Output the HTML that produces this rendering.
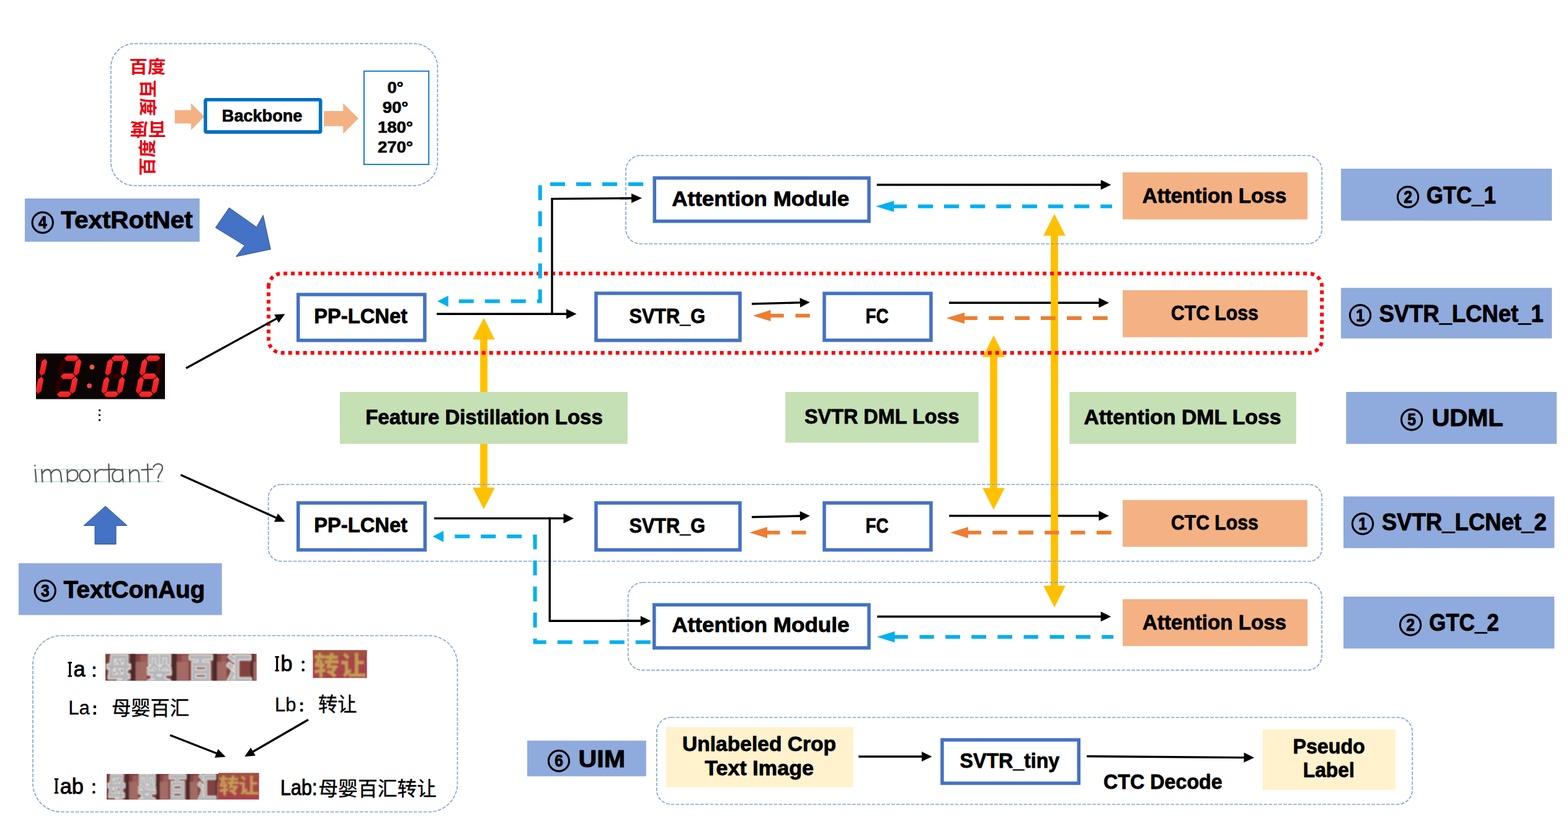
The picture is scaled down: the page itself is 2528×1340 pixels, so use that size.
<!DOCTYPE html>
<html lang="en"><head><meta charset="utf-8"><title>PP-OCRv3 recognition distillation diagram</title>
<style>
html,body{margin:0;padding:0;background:#fff;}
body{width:2528px;height:1340px;overflow:hidden;font-family:"Liberation Sans",sans-serif;}
svg{display:block;}
text{font-family:"Liberation Sans",sans-serif;}
text.cjk{font-family:"Liberation Sans","Noto Sans CJK SC",sans-serif;}
</style></head><body>
<svg width="2528" height="1340" viewBox="0 0 2528 1340">
<defs>
<filter id="blur06" x="-5%" y="-5%" width="110%" height="110%"><feGaussianBlur stdDeviation="0.6"/></filter>
<filter id="blur08" x="-5%" y="-5%" width="110%" height="110%"><feGaussianBlur stdDeviation="0.8"/></filter>
</defs>
<rect width="2528" height="1340" fill="#fff"/>
<rect x="178.80" y="70.40" width="526.60" height="228.90" rx="38" fill="none" stroke="#86A3DA" stroke-width="1.7" stroke-dasharray="5.6 2.3"/>
<g transform="translate(209,95.2)" fill="#E60012">
<text class="cjk" x="-0.6" y="22.7" font-size="28.5" font-weight="bold" textLength="58.7" lengthAdjust="spacingAndGlyphs">百度</text>
</g>
<g transform="translate(250.5,129) rotate(90)" fill="#E60012">
<text class="cjk" x="-0.6" y="22.7" font-size="28.5" font-weight="bold" textLength="58.7" lengthAdjust="spacingAndGlyphs">百度</text>
</g>
<g transform="translate(267.5,220.3) rotate(180)" fill="#E60012">
<text class="cjk" x="-0.6" y="22.7" font-size="28.5" font-weight="bold" textLength="58.7" lengthAdjust="spacingAndGlyphs">百度</text>
</g>
<g transform="translate(225.5,282.8) rotate(-90)" fill="#E60012">
<text class="cjk" x="-0.6" y="22.7" font-size="28.5" font-weight="bold" textLength="58.7" lengthAdjust="spacingAndGlyphs">百度</text>
</g>
<polygon points="281.80,177.40 308.00,177.40 308.00,166.60 329.50,188.00 308.00,209.80 308.00,199.10 281.80,199.10" fill="#F4B183" />
<polygon points="522.20,179.00 553.20,179.00 553.20,166.60 578.00,191.00 553.20,215.70 553.20,203.60 522.20,203.60" fill="#F4B183" />
<rect x="331.20" y="160.80" width="185.50" height="52.10" fill="#fff" stroke="#0070C0" stroke-width="5.6" rx="1.5"/>
<text x="357.80" y="196.20" font-family="'Liberation Sans', sans-serif" font-size="27.5" font-weight="bold" fill="#000" text-anchor="start" stroke="#000" stroke-width="0.66" stroke-linejoin="round" textLength="129.60" lengthAdjust="spacingAndGlyphs" >Backbone</text>
<rect x="586.90" y="114.70" width="104.40" height="150.50" fill="#fff" stroke="#0070C0" stroke-width="1.8" rx="0"/>
<text x="624.40" y="149.70" font-family="'Liberation Sans', sans-serif" font-size="26.3" font-weight="bold" fill="#000" text-anchor="start" stroke="#000" stroke-width="0.63" stroke-linejoin="round" textLength="26.00" lengthAdjust="spacingAndGlyphs" >0°</text>
<text x="616.65" y="181.67" font-family="'Liberation Sans', sans-serif" font-size="26.3" font-weight="bold" fill="#000" text-anchor="start" stroke="#000" stroke-width="0.63" stroke-linejoin="round" textLength="41.50" lengthAdjust="spacingAndGlyphs" >90°</text>
<text x="608.90" y="213.64" font-family="'Liberation Sans', sans-serif" font-size="26.3" font-weight="bold" fill="#000" text-anchor="start" stroke="#000" stroke-width="0.63" stroke-linejoin="round" textLength="57.00" lengthAdjust="spacingAndGlyphs" >180°</text>
<text x="608.90" y="245.61" font-family="'Liberation Sans', sans-serif" font-size="26.3" font-weight="bold" fill="#000" text-anchor="start" stroke="#000" stroke-width="0.63" stroke-linejoin="round" textLength="57.00" lengthAdjust="spacingAndGlyphs" >270°</text>
<rect x="40.00" y="320.00" width="281.80" height="69.80" fill="#8FAADC" />
<circle cx="68.75" cy="358.90" r="16.6" fill="none" stroke="#000" stroke-width="3.15"/>
<text x="61.95" y="368.07" font-family="'Liberation Sans', sans-serif" font-size="28.4" font-weight="bold" stroke="#000" stroke-width="1.0" stroke-linejoin="round" textLength="13.6" lengthAdjust="spacingAndGlyphs">4</text>
<text x="98.30" y="368.10" font-family="'Liberation Sans', sans-serif" font-size="39.6" font-weight="bold" fill="#000" text-anchor="start" stroke="#000" stroke-width="0.95" stroke-linejoin="round" textLength="212.40" lengthAdjust="spacingAndGlyphs" >TextRotNet</text>
<polygon points="369.50,335.00 413.75,366.25 424.25,347.00 436.25,402.00 380.50,413.75 394.50,395.75 347.50,367.00" fill="#4472C4" stroke="#2F528F" stroke-width="1"/>
<line x1="1530.00" y1="488.25" x2="1772.50" y2="488.25" stroke="#000" stroke-width="3.4" />
<polygon points="1788.00,488.25 1771.50,496.25 1771.50,480.25" fill="#000"/>
<line x1="1530.25" y1="831.75" x2="1772.50" y2="831.75" stroke="#000" stroke-width="3.4" />
<polygon points="1788.00,831.75 1771.50,839.75 1771.50,823.75" fill="#000"/>
<polygon points="780.00,512.50 797.80,547.50 785.85,547.50 785.85,786.30 797.80,786.30 780.00,821.30 762.20,786.30 774.15,786.30 774.15,547.50 762.20,547.50" fill="#FFC000" />
<polygon points="1602.00,540.80 1619.80,575.80 1607.85,575.80 1607.85,787.00 1619.80,787.00 1602.00,822.00 1584.20,787.00 1596.15,787.00 1596.15,575.80 1584.20,575.80" fill="#FFC000" />
<polygon points="1700.00,345.00 1717.80,380.00 1705.85,380.00 1705.85,944.50 1717.80,944.50 1700.00,979.50 1682.20,944.50 1694.15,944.50 1694.15,380.00 1682.20,380.00" fill="#FFC000" />
<rect x="1009.00" y="250.75" width="1122.25" height="142.50" rx="24" fill="none" stroke="#86A3DA" stroke-width="1.7" stroke-dasharray="5.6 2.3"/>
<rect x="432.70" y="781.25" width="1698.55" height="123.75" rx="20.6" fill="none" stroke="#86A3DA" stroke-width="1.7" stroke-dasharray="5.6 2.3"/>
<rect x="1012.60" y="939.25" width="1118.50" height="141.45" rx="23.6" fill="none" stroke="#86A3DA" stroke-width="1.7" stroke-dasharray="5.6 2.3"/>
<rect x="1058.75" y="1156.75" width="1218.25" height="140.25" rx="23.4" fill="none" stroke="#86A3DA" stroke-width="1.7" stroke-dasharray="5.6 2.3"/>
<rect x="53.00" y="1025.00" width="684.50" height="284.25" rx="46" fill="none" stroke="#86A3DA" stroke-width="1.7" stroke-dasharray="5.6 2.3"/>
<path d="M433.0,462.22999999999996 A21.2,21.2 0 0 1 454.2,441.03 H2110.05 A21.2,21.2 0 0 1 2131.25,462.22999999999996 V547.8 A21.2,21.2 0 0 1 2110.05,569.0 H454.2 A21.2,21.2 0 0 1 433.0,547.8 Z" fill="none" stroke="#FF0000" stroke-width="6" stroke-dasharray="6 6"/>
<rect x="1055.25" y="287.00" width="345.75" height="69.75" fill="#fff" stroke="#4472C4" stroke-width="5.5" rx="0"/>
<text x="1083.25" y="332.00" font-family="'Liberation Sans', sans-serif" font-size="32.8" font-weight="bold" fill="#000" text-anchor="start" stroke="#000" stroke-width="0.79" stroke-linejoin="round" textLength="286.00" lengthAdjust="spacingAndGlyphs" >Attention Module</text>
<rect x="1810.00" y="278.00" width="298.00" height="75.75" fill="#F4B183" />
<text x="1841.75" y="327.00" font-family="'Liberation Sans', sans-serif" font-size="32.8" font-weight="bold" fill="#000" text-anchor="start" stroke="#000" stroke-width="0.79" stroke-linejoin="round" textLength="232.50" lengthAdjust="spacingAndGlyphs" >Attention Loss</text>
<rect x="2162.00" y="272.00" width="340.00" height="83.75" fill="#8FAADC" />
<circle cx="2270.00" cy="317.70" r="16.6" fill="none" stroke="#000" stroke-width="3.15"/>
<text x="2263.20" y="326.87" font-family="'Liberation Sans', sans-serif" font-size="28.4" font-weight="bold" stroke="#000" stroke-width="1.0" stroke-linejoin="round" textLength="13.6" lengthAdjust="spacingAndGlyphs">2</text>
<text x="2299.75" y="327.50" font-family="'Liberation Sans', sans-serif" font-size="39.6" font-weight="bold" fill="#000" text-anchor="start" stroke="#000" stroke-width="0.95" stroke-linejoin="round" textLength="112.00" lengthAdjust="spacingAndGlyphs" >GTC_1</text>
<line x1="1413.75" y1="298.00" x2="1775.75" y2="298.00" stroke="#000" stroke-width="3.4" />
<polygon points="1791.25,298.00 1774.75,306.00 1774.75,290.00" fill="#000"/>
<polygon points="1412.00,332.75 1441.30,323.85 1441.30,341.65" fill="#00B0F0" />
<rect x="1440.80" y="329.75" width="21.20" height="6.00" fill="#00B0F0" />
<rect x="1480.00" y="329.75" width="24.25" height="6.00" fill="#00B0F0" />
<rect x="1522.00" y="329.75" width="24.25" height="6.00" fill="#00B0F0" />
<rect x="1564.25" y="329.75" width="24.00" height="6.00" fill="#00B0F0" />
<rect x="1606.25" y="329.75" width="23.75" height="6.00" fill="#00B0F0" />
<rect x="1648.00" y="329.75" width="24.00" height="6.00" fill="#00B0F0" />
<rect x="1690.00" y="329.75" width="24.25" height="6.00" fill="#00B0F0" />
<rect x="1732.00" y="329.75" width="24.25" height="6.00" fill="#00B0F0" />
<rect x="1774.25" y="329.75" width="18.75" height="6.00" fill="#00B0F0" />
<rect x="480.75" y="474.95" width="204.10" height="73.90" fill="#fff" stroke="#4472C4" stroke-width="5.5" rx="0"/>
<text x="506.25" y="521.00" font-family="'Liberation Sans', sans-serif" font-size="32.8" font-weight="bold" fill="#000" text-anchor="start" stroke="#000" stroke-width="0.79" stroke-linejoin="round" textLength="150.75" lengthAdjust="spacingAndGlyphs" >PP-LCNet</text>
<rect x="961.00" y="472.95" width="232.00" height="75.90" fill="#fff" stroke="#4472C4" stroke-width="5.5" rx="0"/>
<text x="1014.50" y="521.20" font-family="'Liberation Sans', sans-serif" font-size="32.8" font-weight="bold" fill="#000" text-anchor="start" stroke="#000" stroke-width="0.79" stroke-linejoin="round" textLength="122.50" lengthAdjust="spacingAndGlyphs" >SVTR_G</text>
<rect x="1329.00" y="473.15" width="172.00" height="75.50" fill="#fff" stroke="#4472C4" stroke-width="5.5" rx="0"/>
<text x="1395.50" y="521.20" font-family="'Liberation Sans', sans-serif" font-size="32.8" font-weight="bold" fill="#000" text-anchor="start" stroke="#000" stroke-width="0.79" stroke-linejoin="round" textLength="37.00" lengthAdjust="spacingAndGlyphs" >FC</text>
<rect x="1810.00" y="468.00" width="298.00" height="75.75" fill="#F4B183" />
<text x="1888.00" y="515.50" font-family="'Liberation Sans', sans-serif" font-size="32.8" font-weight="bold" fill="#000" text-anchor="start" stroke="#000" stroke-width="0.79" stroke-linejoin="round" textLength="140.75" lengthAdjust="spacingAndGlyphs" >CTC Loss</text>
<rect x="2162.00" y="464.25" width="340.00" height="81.50" fill="#8FAADC" />
<circle cx="2193.00" cy="508.40" r="16.6" fill="none" stroke="#000" stroke-width="3.15"/>
<text x="2186.20" y="517.57" font-family="'Liberation Sans', sans-serif" font-size="28.4" font-weight="bold" stroke="#000" stroke-width="1.0" stroke-linejoin="round" textLength="13.6" lengthAdjust="spacingAndGlyphs">1</text>
<text x="2223.50" y="518.75" font-family="'Liberation Sans', sans-serif" font-size="39.6" font-weight="bold" fill="#000" text-anchor="start" stroke="#000" stroke-width="0.95" stroke-linejoin="round" textLength="265.00" lengthAdjust="spacingAndGlyphs" >SVTR_LCNet_1</text>
<line x1="300.00" y1="593.75" x2="446.52" y2="513.37" stroke="#000" stroke-width="3.4" />
<polygon points="459.50,506.25 449.25,520.42 442.04,507.27" fill="#000"/>
<polyline points="890,507.8 890,320.6 1020,319.6" fill="none" stroke="#000" stroke-width="3.4"/>
<line x1="1000.00" y1="319.80" x2="1019.00" y2="319.58" stroke="#000" stroke-width="3.4" />
<polygon points="1035.00,319.40 1018.09,327.19 1017.91,311.99" fill="#000"/>
<line x1="704.00" y1="506.25" x2="914.00" y2="506.25" stroke="#000" stroke-width="3.4" />
<polygon points="929.50,506.25 913.00,514.25 913.00,498.25" fill="#000"/>
<line x1="1212.00" y1="490.00" x2="1290.76" y2="487.90" stroke="#000" stroke-width="3.4" />
<polygon points="1305.75,487.50 1289.96,495.72 1289.55,480.13" fill="#000"/>
<polygon points="1213.75,509.00 1242.55,500.00 1242.55,518.00" fill="#ED7D31" />
<rect x="1242.05" y="506.00" width="21.70" height="6.00" fill="#ED7D31" />
<rect x="1282.50" y="506.00" width="23.25" height="6.00" fill="#ED7D31" />
<polygon points="1525.75,513.00 1555.05,504.00 1555.05,522.00" fill="#ED7D31" />
<rect x="1554.55" y="510.00" width="21.20" height="6.00" fill="#ED7D31" />
<rect x="1594.25" y="510.00" width="23.75" height="6.00" fill="#ED7D31" />
<rect x="1636.25" y="510.00" width="23.75" height="6.00" fill="#ED7D31" />
<rect x="1678.00" y="510.00" width="23.75" height="6.00" fill="#ED7D31" />
<rect x="1720.00" y="510.00" width="23.75" height="6.00" fill="#ED7D31" />
<rect x="1762.00" y="510.00" width="23.75" height="6.00" fill="#ED7D31" />
<path d="M1037,297 H870.75 V485.75 H722" fill="none" stroke="#00B0F0" stroke-width="6" stroke-dasharray="24 18"/>
<polygon points="705.25,485.75 722.75,476.75 722.75,494.75" fill="#00B0F0" />
<rect x="548.00" y="632.00" width="463.75" height="83.75" fill="#C5E0B4" />
<text x="589.25" y="683.75" font-family="'Liberation Sans', sans-serif" font-size="33.4" font-weight="bold" fill="#000" text-anchor="start" stroke="#000" stroke-width="0.80" stroke-linejoin="round" textLength="382.50" lengthAdjust="spacingAndGlyphs" >Feature Distillation Loss</text>
<rect x="1266.25" y="632.00" width="311.50" height="81.75" fill="#C5E0B4" />
<text x="1297.00" y="683.00" font-family="'Liberation Sans', sans-serif" font-size="33.4" font-weight="bold" fill="#000" text-anchor="start" stroke="#000" stroke-width="0.80" stroke-linejoin="round" textLength="249.50" lengthAdjust="spacingAndGlyphs" >SVTR DML Loss</text>
<rect x="1724.25" y="632.00" width="365.50" height="83.75" fill="#C5E0B4" />
<text x="1747.50" y="684.25" font-family="'Liberation Sans', sans-serif" font-size="33.4" font-weight="bold" fill="#000" text-anchor="start" stroke="#000" stroke-width="0.80" stroke-linejoin="round" textLength="318.00" lengthAdjust="spacingAndGlyphs" >Attention DML Loss</text>
<rect x="2170.25" y="632.00" width="339.50" height="83.75" fill="#8FAADC" />
<circle cx="2276.00" cy="676.70" r="16.6" fill="none" stroke="#000" stroke-width="3.15"/>
<text x="2269.20" y="685.87" font-family="'Liberation Sans', sans-serif" font-size="28.4" font-weight="bold" stroke="#000" stroke-width="1.0" stroke-linejoin="round" textLength="13.6" lengthAdjust="spacingAndGlyphs">5</text>
<text x="2308.50" y="687.00" font-family="'Liberation Sans', sans-serif" font-size="39.6" font-weight="bold" fill="#000" text-anchor="start" stroke="#000" stroke-width="0.95" stroke-linejoin="round" textLength="115.00" lengthAdjust="spacingAndGlyphs" >UDML</text>
<rect x="480.75" y="811.00" width="204.50" height="75.75" fill="#fff" stroke="#4472C4" stroke-width="5.5" rx="0"/>
<text x="506.25" y="858.00" font-family="'Liberation Sans', sans-serif" font-size="32.8" font-weight="bold" fill="#000" text-anchor="start" stroke="#000" stroke-width="0.79" stroke-linejoin="round" textLength="150.75" lengthAdjust="spacingAndGlyphs" >PP-LCNet</text>
<rect x="961.00" y="811.00" width="232.00" height="75.75" fill="#fff" stroke="#4472C4" stroke-width="5.5" rx="0"/>
<text x="1014.50" y="858.75" font-family="'Liberation Sans', sans-serif" font-size="32.8" font-weight="bold" fill="#000" text-anchor="start" stroke="#000" stroke-width="0.79" stroke-linejoin="round" textLength="122.50" lengthAdjust="spacingAndGlyphs" >SVTR_G</text>
<rect x="1329.00" y="811.00" width="172.00" height="75.75" fill="#fff" stroke="#4472C4" stroke-width="5.5" rx="0"/>
<text x="1395.50" y="858.75" font-family="'Liberation Sans', sans-serif" font-size="32.8" font-weight="bold" fill="#000" text-anchor="start" stroke="#000" stroke-width="0.79" stroke-linejoin="round" textLength="37.00" lengthAdjust="spacingAndGlyphs" >FC</text>
<rect x="1810.00" y="806.25" width="297.75" height="75.50" fill="#F4B183" />
<text x="1888.00" y="853.75" font-family="'Liberation Sans', sans-serif" font-size="32.8" font-weight="bold" fill="#000" text-anchor="start" stroke="#000" stroke-width="0.79" stroke-linejoin="round" textLength="140.75" lengthAdjust="spacingAndGlyphs" >CTC Loss</text>
<rect x="2166.00" y="800.50" width="340.00" height="83.25" fill="#8FAADC" />
<circle cx="2197.00" cy="844.70" r="16.6" fill="none" stroke="#000" stroke-width="3.15"/>
<text x="2190.20" y="853.87" font-family="'Liberation Sans', sans-serif" font-size="28.4" font-weight="bold" stroke="#000" stroke-width="1.0" stroke-linejoin="round" textLength="13.6" lengthAdjust="spacingAndGlyphs">1</text>
<text x="2227.75" y="855.00" font-family="'Liberation Sans', sans-serif" font-size="39.6" font-weight="bold" fill="#000" text-anchor="start" stroke="#000" stroke-width="0.95" stroke-linejoin="round" textLength="265.75" lengthAdjust="spacingAndGlyphs" >SVTR_LCNet_2</text>
<line x1="291.25" y1="765.75" x2="446.00" y2="835.19" stroke="#000" stroke-width="3.4" />
<polygon points="459.50,841.25 442.01,841.62 448.16,827.94" fill="#000"/>
<polyline points="886.25,834.2 886.25,1001.25 1035,1001.25" fill="none" stroke="#000" stroke-width="3.4"/>
<line x1="1000.00" y1="1001.25" x2="1033.75" y2="1001.25" stroke="#000" stroke-width="3.4" />
<polygon points="1049.25,1001.25 1032.75,1009.25 1032.75,993.25" fill="#000"/>
<line x1="700.00" y1="835.90" x2="909.50" y2="835.90" stroke="#000" stroke-width="3.4" />
<polygon points="925.00,835.90 908.50,843.90 908.50,827.90" fill="#000"/>
<line x1="1212.00" y1="833.75" x2="1290.75" y2="832.07" stroke="#000" stroke-width="3.4" />
<polygon points="1305.75,831.75 1289.92,839.89 1289.59,824.29" fill="#000"/>
<polygon points="1208.25,858.75 1237.05,849.75 1237.05,867.75" fill="#ED7D31" />
<rect x="1236.55" y="855.75" width="20.95" height="6.00" fill="#ED7D31" />
<rect x="1276.25" y="855.75" width="23.25" height="6.00" fill="#ED7D31" />
<polygon points="1532.00,858.75 1560.80,849.75 1560.80,867.75" fill="#ED7D31" />
<rect x="1560.30" y="855.75" width="21.70" height="6.00" fill="#ED7D31" />
<rect x="1600.25" y="855.75" width="23.50" height="6.00" fill="#ED7D31" />
<rect x="1642.00" y="855.75" width="23.75" height="6.00" fill="#ED7D31" />
<rect x="1642.50" y="855.75" width="23.25" height="6.00" fill="#ED7D31" />
<rect x="1684.25" y="855.75" width="23.25" height="6.00" fill="#ED7D31" />
<rect x="1726.25" y="855.75" width="23.25" height="6.00" fill="#ED7D31" />
<rect x="1768.00" y="855.75" width="23.75" height="6.00" fill="#ED7D31" />
<path d="M1048.75,1035.5 H862.6 V865 H714" fill="none" stroke="#00B0F0" stroke-width="6" stroke-dasharray="24 18"/>
<polygon points="697.50,865.00 715.00,856.00 715.00,874.00" fill="#00B0F0" />
<rect x="1054.75" y="975.25" width="346.25" height="69.50" fill="#fff" stroke="#4472C4" stroke-width="5.5" rx="0"/>
<text x="1083.25" y="1018.75" font-family="'Liberation Sans', sans-serif" font-size="32.8" font-weight="bold" fill="#000" text-anchor="start" stroke="#000" stroke-width="0.79" stroke-linejoin="round" textLength="286.25" lengthAdjust="spacingAndGlyphs" >Attention Module</text>
<rect x="1810.00" y="966.25" width="298.00" height="75.50" fill="#F4B183" />
<text x="1842.00" y="1015.00" font-family="'Liberation Sans', sans-serif" font-size="32.8" font-weight="bold" fill="#000" text-anchor="start" stroke="#000" stroke-width="0.79" stroke-linejoin="round" textLength="232.00" lengthAdjust="spacingAndGlyphs" >Attention Loss</text>
<rect x="2166.00" y="962.00" width="340.00" height="83.75" fill="#8FAADC" />
<circle cx="2274.00" cy="1007.70" r="16.6" fill="none" stroke="#000" stroke-width="3.15"/>
<text x="2267.20" y="1016.87" font-family="'Liberation Sans', sans-serif" font-size="28.4" font-weight="bold" stroke="#000" stroke-width="1.0" stroke-linejoin="round" textLength="13.6" lengthAdjust="spacingAndGlyphs">2</text>
<text x="2304.00" y="1017.00" font-family="'Liberation Sans', sans-serif" font-size="39.6" font-weight="bold" fill="#000" text-anchor="start" stroke="#000" stroke-width="0.95" stroke-linejoin="round" textLength="112.75" lengthAdjust="spacingAndGlyphs" >GTC_2</text>
<line x1="1414.25" y1="994.25" x2="1775.75" y2="994.25" stroke="#000" stroke-width="3.4" />
<polygon points="1791.25,994.25 1774.75,1002.25 1774.75,986.25" fill="#000"/>
<polygon points="1413.75,1027.00 1442.55,1018.10 1442.55,1035.90" fill="#00B0F0" />
<rect x="1442.05" y="1024.00" width="21.70" height="6.00" fill="#00B0F0" />
<rect x="1482.50" y="1024.00" width="23.25" height="6.00" fill="#00B0F0" />
<rect x="1524.25" y="1024.00" width="23.75" height="6.00" fill="#00B0F0" />
<rect x="1566.25" y="1024.00" width="23.75" height="6.00" fill="#00B0F0" />
<rect x="1608.25" y="1024.00" width="23.75" height="6.00" fill="#00B0F0" />
<rect x="1650.50" y="1024.00" width="23.25" height="6.00" fill="#00B0F0" />
<rect x="1692.50" y="1024.00" width="23.25" height="6.00" fill="#00B0F0" />
<rect x="1734.50" y="1024.00" width="23.50" height="6.00" fill="#00B0F0" />
<rect x="1776.25" y="1024.00" width="18.75" height="6.00" fill="#00B0F0" />
<rect x="850.00" y="1194.25" width="191.75" height="57.50" fill="#8FAADC" />
<circle cx="901.00" cy="1227.00" r="16.6" fill="none" stroke="#000" stroke-width="3.15"/>
<text x="894.20" y="1236.17" font-family="'Liberation Sans', sans-serif" font-size="28.4" font-weight="bold" stroke="#000" stroke-width="1.0" stroke-linejoin="round" textLength="13.6" lengthAdjust="spacingAndGlyphs">6</text>
<text x="932.50" y="1236.75" font-family="'Liberation Sans', sans-serif" font-size="39.6" font-weight="bold" fill="#000" text-anchor="start" stroke="#000" stroke-width="0.95" stroke-linejoin="round" textLength="75.50" lengthAdjust="spacingAndGlyphs" >UIM</text>
<rect x="1074.25" y="1172.50" width="301.50" height="97.00" fill="#FFF2CC" />
<text x="1100.00" y="1211.25" font-family="'Liberation Sans', sans-serif" font-size="32.8" font-weight="bold" fill="#000" text-anchor="start" stroke="#000" stroke-width="0.79" stroke-linejoin="round" textLength="248.00" lengthAdjust="spacingAndGlyphs" >Unlabeled Crop</text>
<text x="1136.25" y="1250.00" font-family="'Liberation Sans', sans-serif" font-size="32.8" font-weight="bold" fill="#000" text-anchor="start" stroke="#000" stroke-width="0.79" stroke-linejoin="round" textLength="175.75" lengthAdjust="spacingAndGlyphs" >Text Image</text>
<line x1="1384.25" y1="1220.00" x2="1487.00" y2="1220.00" stroke="#000" stroke-width="3.4" />
<polygon points="1502.50,1220.00 1486.00,1228.00 1486.00,1212.00" fill="#000"/>
<rect x="1519.00" y="1193.05" width="220.25" height="69.95" fill="#fff" stroke="#4472C4" stroke-width="5.5" rx="0"/>
<text x="1547.50" y="1237.50" font-family="'Liberation Sans', sans-serif" font-size="32.8" font-weight="bold" fill="#000" text-anchor="start" stroke="#000" stroke-width="0.79" stroke-linejoin="round" textLength="160.75" lengthAdjust="spacingAndGlyphs" >SVTR_tiny</text>
<line x1="1752.00" y1="1219.50" x2="2006.50" y2="1221.62" stroke="#000" stroke-width="3.4" />
<polygon points="2022.00,1221.75 2005.43,1229.61 2005.57,1213.61" fill="#000"/>
<text x="1779.00" y="1272.00" font-family="'Liberation Sans', sans-serif" font-size="34" font-weight="bold" fill="#000" text-anchor="start" stroke="#000" stroke-width="0.82" stroke-linejoin="round" textLength="191.75" lengthAdjust="spacingAndGlyphs" >CTC Decode</text>
<rect x="2035.75" y="1176.25" width="214.00" height="97.50" fill="#FFF2CC" />
<text x="2084.50" y="1215.00" font-family="'Liberation Sans', sans-serif" font-size="32.8" font-weight="bold" fill="#000" text-anchor="start" stroke="#000" stroke-width="0.79" stroke-linejoin="round" textLength="116.25" lengthAdjust="spacingAndGlyphs" >Pseudo</text>
<text x="2100.75" y="1253.00" font-family="'Liberation Sans', sans-serif" font-size="32.8" font-weight="bold" fill="#000" text-anchor="start" stroke="#000" stroke-width="0.79" stroke-linejoin="round" textLength="83.00" lengthAdjust="spacingAndGlyphs" >Label</text>
<rect x="30.00" y="908.25" width="327.75" height="83.50" fill="#8FAADC" />
<circle cx="72.75" cy="952.60" r="16.6" fill="none" stroke="#000" stroke-width="3.15"/>
<text x="65.95" y="961.77" font-family="'Liberation Sans', sans-serif" font-size="28.4" font-weight="bold" stroke="#000" stroke-width="1.0" stroke-linejoin="round" textLength="13.6" lengthAdjust="spacingAndGlyphs">3</text>
<text x="102.50" y="963.75" font-family="'Liberation Sans', sans-serif" font-size="39.6" font-weight="bold" fill="#000" text-anchor="start" stroke="#000" stroke-width="0.95" stroke-linejoin="round" textLength="228.00" lengthAdjust="spacingAndGlyphs" >TextConAug</text>
<polygon points="170.00,816.25 205.00,847.50 187.00,847.50 187.00,877.50 153.00,877.50 153.00,847.50 135.00,847.50" fill="#4472C4" stroke="#2F528F" stroke-width="1"/>
<clipPath id="ledclip"><rect x="58" y="570" width="208" height="73.8"/></clipPath>
<g clip-path="url(#ledclip)">
<rect x="58" y="570" width="208" height="73.8" fill="#0b0505"/>
<linearGradient id="ledg" x1="0" y1="0" x2="0" y2="1"><stop offset="0" stop-color="#ff3030"/><stop offset="1" stop-color="#f01820"/></linearGradient>
<g filter="url(#blur06)">
<g transform="translate(30.50,640.30) skewX(-11.5) translate(0,-67)">
<polygon points="5.2,4.5 9.7,0.0 24.3,0.0 28.8,4.5 24.3,9.0 9.7,9.0" fill="#2a0606"/>
<polygon points="5.2,33.5 9.7,29.0 24.3,29.0 28.8,33.5 24.3,38.0 9.7,38.0" fill="#2a0606"/>
<polygon points="5.2,62.5 9.7,58.0 24.3,58.0 28.8,62.5 24.3,67.0 9.7,67.0" fill="#2a0606"/>
<polygon points="4.5,5.2 9.0,9.7 9.0,28.3 4.5,32.8 0.0,28.3 0.0,9.7" fill="#2a0606"/>
<polygon points="29.5,5.2 34.0,9.7 34.0,28.3 29.5,32.8 25.0,28.3 25.0,9.7" fill="url(#ledg)"/>
<polygon points="4.5,34.2 9.0,38.7 9.0,57.3 4.5,61.8 0.0,57.3 0.0,38.7" fill="#2a0606"/>
<polygon points="29.5,34.2 34.0,38.7 34.0,57.3 29.5,61.8 25.0,57.3 25.0,38.7" fill="url(#ledg)"/>
</g>
<g transform="translate(85.50,640.30) skewX(-11.5) translate(0,-67)">
<polygon points="5.2,4.5 9.7,0.0 24.3,0.0 28.8,4.5 24.3,9.0 9.7,9.0" fill="url(#ledg)"/>
<polygon points="5.2,33.5 9.7,29.0 24.3,29.0 28.8,33.5 24.3,38.0 9.7,38.0" fill="url(#ledg)"/>
<polygon points="5.2,62.5 9.7,58.0 24.3,58.0 28.8,62.5 24.3,67.0 9.7,67.0" fill="url(#ledg)"/>
<polygon points="4.5,5.2 9.0,9.7 9.0,28.3 4.5,32.8 0.0,28.3 0.0,9.7" fill="#2a0606"/>
<polygon points="29.5,5.2 34.0,9.7 34.0,28.3 29.5,32.8 25.0,28.3 25.0,9.7" fill="url(#ledg)"/>
<polygon points="4.5,34.2 9.0,38.7 9.0,57.3 4.5,61.8 0.0,57.3 0.0,38.7" fill="#2a0606"/>
<polygon points="29.5,34.2 34.0,38.7 34.0,57.3 29.5,61.8 25.0,57.3 25.0,38.7" fill="url(#ledg)"/>
</g>
<g transform="translate(161.50,640.30) skewX(-11.5) translate(0,-67)">
<polygon points="5.2,4.5 9.7,0.0 24.3,0.0 28.8,4.5 24.3,9.0 9.7,9.0" fill="url(#ledg)"/>
<polygon points="5.2,33.5 9.7,29.0 24.3,29.0 28.8,33.5 24.3,38.0 9.7,38.0" fill="#2a0606"/>
<polygon points="5.2,62.5 9.7,58.0 24.3,58.0 28.8,62.5 24.3,67.0 9.7,67.0" fill="url(#ledg)"/>
<polygon points="4.5,5.2 9.0,9.7 9.0,28.3 4.5,32.8 0.0,28.3 0.0,9.7" fill="url(#ledg)"/>
<polygon points="29.5,5.2 34.0,9.7 34.0,28.3 29.5,32.8 25.0,28.3 25.0,9.7" fill="url(#ledg)"/>
<polygon points="4.5,34.2 9.0,38.7 9.0,57.3 4.5,61.8 0.0,57.3 0.0,38.7" fill="url(#ledg)"/>
<polygon points="29.5,34.2 34.0,38.7 34.0,57.3 29.5,61.8 25.0,57.3 25.0,38.7" fill="url(#ledg)"/>
</g>
<g transform="translate(217.00,640.30) skewX(-11.5) translate(0,-67)">
<polygon points="5.2,4.5 9.7,0.0 24.3,0.0 28.8,4.5 24.3,9.0 9.7,9.0" fill="url(#ledg)"/>
<polygon points="5.2,33.5 9.7,29.0 24.3,29.0 28.8,33.5 24.3,38.0 9.7,38.0" fill="url(#ledg)"/>
<polygon points="5.2,62.5 9.7,58.0 24.3,58.0 28.8,62.5 24.3,67.0 9.7,67.0" fill="url(#ledg)"/>
<polygon points="4.5,5.2 9.0,9.7 9.0,28.3 4.5,32.8 0.0,28.3 0.0,9.7" fill="url(#ledg)"/>
<polygon points="29.5,5.2 34.0,9.7 34.0,28.3 29.5,32.8 25.0,28.3 25.0,9.7" fill="#2a0606"/>
<polygon points="4.5,34.2 9.0,38.7 9.0,57.3 4.5,61.8 0.0,57.3 0.0,38.7" fill="url(#ledg)"/>
<polygon points="29.5,34.2 34.0,38.7 34.0,57.3 29.5,61.8 25.0,57.3 25.0,38.7" fill="url(#ledg)"/>
</g>
<circle cx="148.4" cy="591.8" r="3.9" fill="#f25a40"/><circle cx="144.1" cy="622.1" r="3.9" fill="#f0404a"/>
</g></g>
<rect x="159" y="660.1" width="3" height="3" fill="#000"/>
<rect x="159" y="667.8" width="3" height="3" fill="#000"/>
<rect x="159" y="675.9" width="3" height="3" fill="#000"/>
<g transform="translate(50,560) scale(0.17164)" fill="none" stroke-linecap="round" stroke-linejoin="round">
<path d="M25,1148H1235M25,1262H1235" stroke="#BFE3E0" stroke-width="9"/>
<clipPath id="hwclip"><rect x="0" y="1060" width="1340" height="208"/></clipPath>
<g stroke="#555" stroke-width="13" clip-path="url(#hwclip)">
<path d="M40,1150 L50,1272 M100,1150 L108,1272 M104,1195 C115,1150 170,1130 185,1175 L192,1272 M188,1190 C200,1150 260,1130 278,1180 L288,1272 M340,1150 L345,1290 M342,1185 C370,1140 440,1140 440,1200 C440,1250 390,1272 345,1240 M505,1152 C440,1152 440,1268 505,1268 C570,1268 570,1152 505,1152 Z M600,1150 L605,1272 M603,1195 C615,1160 650,1140 685,1152 M730,1098 L735,1272 M680,1152 L790,1146 M860,1165 C830,1135 765,1150 765,1212 C765,1275 830,1280 862,1230 M858,1150 L866,1272 M925,1150 L930,1272 M928,1195 C945,1150 1005,1135 1012,1185 L1018,1272 M1095,1098 L1100,1272 M1040,1152 L1140,1146 M1150,1125 C1165,1085 1240,1085 1235,1135 C1232,1175 1195,1185 1195,1228"/>
</g>
<circle cx="37" cy="1112" r="8" fill="#555"/><circle cx="1195" cy="1258" r="8" fill="#555"/>
</g>
<linearGradient id="signbg" x1="0" y1="0" x2="1" y2="0"><stop offset="0" stop-color="#7c3e3c"/><stop offset="0.5" stop-color="#884846"/><stop offset="1" stop-color="#804240"/></linearGradient>
<clipPath id="ca"><rect x="170" y="1054.25" width="243.75" height="43.5"/></clipPath>
<g clip-path="url(#ca)">
<rect x="170" y="1054.25" width="243.75" height="43.5" fill="url(#signbg)"/>
<g filter="url(#blur08)">
<rect x="209.8" y="1054.25" width="9.0" height="43.5" fill="#4e2a2b"/>
<rect x="218.8" y="1067.3" width="18.2" height="30.4" fill="#b07a72" opacity="0.7"/>
<rect x="226.1" y="1056.4" width="10.9" height="13.0" fill="#a86c66" opacity="0.6"/>
<rect x="275.8" y="1054.25" width="9.2" height="43.5" fill="#4e2a2b"/>
<rect x="285.0" y="1067.3" width="18.7" height="30.4" fill="#b07a72" opacity="0.7"/>
<rect x="292.5" y="1056.4" width="11.2" height="13.0" fill="#a86c66" opacity="0.6"/>
<rect x="342.5" y="1054.25" width="7.6" height="43.5" fill="#4e2a2b"/>
<rect x="350.1" y="1067.3" width="15.4" height="30.4" fill="#b07a72" opacity="0.7"/>
<rect x="356.3" y="1056.4" width="9.2" height="13.0" fill="#a86c66" opacity="0.6"/>
<rect x="404.3" y="1054.25" width="4.4" height="43.5" fill="#4e2a2b"/>
<rect x="408.7" y="1067.3" width="9.0" height="30.4" fill="#b07a72" opacity="0.7"/>
<rect x="412.4" y="1056.4" width="5.4" height="13.0" fill="#a86c66" opacity="0.6"/>
<text class="cjk" x="171.0" y="1096.6" font-size="50" font-weight="bold" textLength="40" lengthAdjust="spacingAndGlyphs" fill="#e6e2d2" stroke="#e6e2d2" stroke-width="4.7" stroke-linejoin="round">母</text>
<text class="cjk" x="171.0" y="1096.6" font-size="50" font-weight="bold" textLength="40" lengthAdjust="spacingAndGlyphs" fill="#b2b6be" stroke="#b2b6be" stroke-width="0.36">母</text>
<text class="cjk" x="237.0" y="1096.6" font-size="50" font-weight="bold" textLength="40" lengthAdjust="spacingAndGlyphs" fill="#e6e2d2" stroke="#e6e2d2" stroke-width="4.7" stroke-linejoin="round">婴</text>
<text class="cjk" x="237.0" y="1096.6" font-size="50" font-weight="bold" textLength="40" lengthAdjust="spacingAndGlyphs" fill="#b2b6be" stroke="#b2b6be" stroke-width="0.36">婴</text>
<text class="cjk" x="303.7" y="1096.6" font-size="50" font-weight="bold" textLength="40" lengthAdjust="spacingAndGlyphs" fill="#e6e2d2" stroke="#e6e2d2" stroke-width="4.7" stroke-linejoin="round">百</text>
<text class="cjk" x="303.7" y="1096.6" font-size="50" font-weight="bold" textLength="40" lengthAdjust="spacingAndGlyphs" fill="#b2b6be" stroke="#b2b6be" stroke-width="0.36">百</text>
<text class="cjk" x="365.5" y="1096.6" font-size="50" font-weight="bold" textLength="40" lengthAdjust="spacingAndGlyphs" fill="#e6e2d2" stroke="#e6e2d2" stroke-width="4.7" stroke-linejoin="round">汇</text>
<text class="cjk" x="365.5" y="1096.6" font-size="50" font-weight="bold" textLength="40" lengthAdjust="spacingAndGlyphs" fill="#b2b6be" stroke="#b2b6be" stroke-width="0.36">汇</text>
</g></g>
<clipPath id="cb"><rect x="504.25" y="1048.25" width="87.5" height="45.25"/></clipPath>
<g clip-path="url(#cb)">
<rect x="504.25" y="1048.25" width="87.5" height="45.25" fill="#a9424a"/>
<rect x="504.25" y="1048.25" width="87.5" height="9.1" fill="#9c5a3c" opacity="0.6"/>
<g filter="url(#blur08)">
<text class="cjk" x="506.0" y="1088.1" font-size="41" font-weight="bold" fill="#c29c52" stroke="#c29c52" stroke-width="0.82">转</text>
<text class="cjk" x="549.0" y="1088.1" font-size="41" font-weight="bold" fill="#c29c52" stroke="#c29c52" stroke-width="0.82">让</text>
</g></g>
<clipPath id="cab"><rect x="172" y="1248" width="180" height="41.5"/></clipPath>
<g clip-path="url(#cab)">
<rect x="172" y="1248" width="180" height="41.5" fill="url(#signbg)"/>
<g filter="url(#blur08)">
<rect x="201.2" y="1248" width="7.0" height="41.5" fill="#4e2a2b"/>
<rect x="208.2" y="1260.5" width="14.3" height="29.0" fill="#b07a72" opacity="0.7"/>
<rect x="214.0" y="1250.1" width="8.5" height="12.4" fill="#a86c66" opacity="0.6"/>
<rect x="251.1" y="1248" width="6.7" height="41.5" fill="#4e2a2b"/>
<rect x="257.8" y="1260.5" width="13.7" height="29.0" fill="#b07a72" opacity="0.7"/>
<rect x="263.3" y="1250.1" width="8.2" height="12.4" fill="#a86c66" opacity="0.6"/>
<rect x="300.1" y="1248" width="6.2" height="41.5" fill="#4e2a2b"/>
<rect x="306.3" y="1260.5" width="12.7" height="29.0" fill="#b07a72" opacity="0.7"/>
<rect x="311.4" y="1250.1" width="7.6" height="12.4" fill="#a86c66" opacity="0.6"/>
<rect x="347.6" y="1248" width="2.8" height="41.5" fill="#4e2a2b"/>
<rect x="350.3" y="1260.5" width="5.7" height="29.0" fill="#b07a72" opacity="0.7"/>
<rect x="352.6" y="1250.1" width="3.4" height="12.4" fill="#a86c66" opacity="0.6"/>
<text class="cjk" x="172.6" y="1288.4" font-size="47.5" font-weight="bold" textLength="29.5" lengthAdjust="spacingAndGlyphs" fill="#e6e2d2" stroke="#e6e2d2" stroke-width="4" stroke-linejoin="round">母</text>
<text class="cjk" x="172.6" y="1288.4" font-size="47.5" font-weight="bold" textLength="29.5" lengthAdjust="spacingAndGlyphs" fill="#b2b6be" stroke="#b2b6be" stroke-width="0.3">母</text>
<text class="cjk" x="222.5" y="1288.4" font-size="47.5" font-weight="bold" textLength="29.5" lengthAdjust="spacingAndGlyphs" fill="#e6e2d2" stroke="#e6e2d2" stroke-width="4" stroke-linejoin="round">婴</text>
<text class="cjk" x="222.5" y="1288.4" font-size="47.5" font-weight="bold" textLength="29.5" lengthAdjust="spacingAndGlyphs" fill="#b2b6be" stroke="#b2b6be" stroke-width="0.3">婴</text>
<text class="cjk" x="271.5" y="1288.4" font-size="47.5" font-weight="bold" textLength="29.5" lengthAdjust="spacingAndGlyphs" fill="#e6e2d2" stroke="#e6e2d2" stroke-width="4" stroke-linejoin="round">百</text>
<text class="cjk" x="271.5" y="1288.4" font-size="47.5" font-weight="bold" textLength="29.5" lengthAdjust="spacingAndGlyphs" fill="#b2b6be" stroke="#b2b6be" stroke-width="0.3">百</text>
<text class="cjk" x="319.0" y="1288.4" font-size="47.5" font-weight="bold" textLength="29.5" lengthAdjust="spacingAndGlyphs" fill="#e6e2d2" stroke="#e6e2d2" stroke-width="4" stroke-linejoin="round">汇</text>
<text class="cjk" x="319.0" y="1288.4" font-size="47.5" font-weight="bold" textLength="29.5" lengthAdjust="spacingAndGlyphs" fill="#b2b6be" stroke="#b2b6be" stroke-width="0.3">汇</text>
</g></g>
<clipPath id="cbb"><rect x="352" y="1246.25" width="65.75" height="43.25"/></clipPath>
<g clip-path="url(#cbb)">
<rect x="352" y="1246.25" width="65.75" height="43.25" fill="#a9424a"/>
<rect x="352" y="1246.25" width="65.75" height="8.7" fill="#9c5a3c" opacity="0.6"/>
<g filter="url(#blur08)">
<text class="cjk" x="353.0" y="1279.1" font-size="32.5" font-weight="bold" fill="#c29c52" stroke="#c29c52" stroke-width="0.65">转</text>
<text class="cjk" x="385.0" y="1279.1" font-size="32.5" font-weight="bold" fill="#c29c52" stroke="#c29c52" stroke-width="0.65">让</text>
</g></g>
<path d="M109.4,1090.15h6.6M109.4,1068.4499999999998h6.6" stroke="#000" stroke-width="2.5"/><path d="M112.7,1091.25v-23.9" stroke="#000" stroke-width="3.2"/>
<text x="118.6" y="1091.25" font-family="'Liberation Sans', sans-serif" font-size="34.2" font-weight="normal" stroke="#000" stroke-width="0.9" >a</text>
<rect x="149.8" y="1074.5" width="4.2" height="4.2" rx="1.2"/><rect x="149.8" y="1087.2" width="4.2" height="4.2" rx="1.2"/>
<path d="M443.4,1081.2h6.6M443.4,1059.1999999999998h6.6" stroke="#000" stroke-width="2.5"/><path d="M446.7,1082.3v-24.2" stroke="#000" stroke-width="3.2"/>
<text x="452.5" y="1082.3" font-family="'Liberation Sans', sans-serif" font-size="34.2" font-weight="normal" stroke="#000" stroke-width="0.9" >b</text>
<rect x="486.6" y="1065.5" width="4.2" height="4.2" rx="1.2"/><rect x="486.6" y="1078.2" width="4.2" height="4.2" rx="1.2"/>
<path d="M87.7,1278.4h6.6M87.7,1256.1999999999998h6.6" stroke="#000" stroke-width="2.5"/><path d="M91.0,1279.5v-24.4" stroke="#000" stroke-width="3.2"/>
<text x="96.8" y="1279.5" font-family="'Liberation Sans', sans-serif" font-size="34.2" font-weight="normal" stroke="#000" stroke-width="0.9" >ab</text>
<rect x="149.2" y="1262.7" width="4.2" height="4.2" rx="1.2"/><rect x="149.2" y="1275.4" width="4.2" height="4.2" rx="1.2"/>
<text x="110.3" y="1152" font-family="'Liberation Mono', sans-serif" font-size="31" font-weight="normal" stroke="#000" stroke-width="0.3" >La</text>
<rect x="150.6" y="1137.6" width="4.4" height="4.4" rx="1.2"/><rect x="150.6" y="1148.0" width="4.4" height="4.4" rx="1.2"/>
<text x="443.0" y="1147" font-family="'Liberation Mono', sans-serif" font-size="31" font-weight="normal" stroke="#000" stroke-width="0.3" >Lb</text>
<rect x="484.0" y="1132.6" width="4.4" height="4.4" rx="1.2"/><rect x="484.0" y="1143.0" width="4.4" height="4.4" rx="1.2"/>
<text x="452.0" y="1282" font-family="'Liberation Sans', sans-serif" font-size="34.2" font-weight="normal" stroke="#000" stroke-width="0.9" textLength="59.5" lengthAdjust="spacingAndGlyphs">Lab:</text>
<text class="cjk" x="180.0" y="1152.7" font-size="31.3" fill="#000" stroke="#000" stroke-width="0.38" textLength="125.2" lengthAdjust="spacingAndGlyphs">母婴百汇</text>
<text class="cjk" x="513.0" y="1147.3" font-size="31.3" fill="#000" stroke="#000" stroke-width="0.38" textLength="62.6" lengthAdjust="spacingAndGlyphs">转让</text>
<text class="cjk" x="513.3" y="1282.6" font-size="31.8" fill="#000" stroke="#000" stroke-width="0.38" textLength="190.8" lengthAdjust="spacingAndGlyphs">母婴百汇转让</text>
<line x1="274.25" y1="1185.50" x2="349.78" y2="1215.04" stroke="#000" stroke-width="3.4"/>
<polygon points="363.75,1220.50 346.12,1221.66 351.58,1207.69" fill="#000"/>
<line x1="497.00" y1="1160.50" x2="407.23" y2="1212.48" stroke="#000" stroke-width="3.4"/>
<polygon points="394.25,1220.00 404.34,1205.49 411.85,1218.47" fill="#000"/>
</svg>
</body></html>
